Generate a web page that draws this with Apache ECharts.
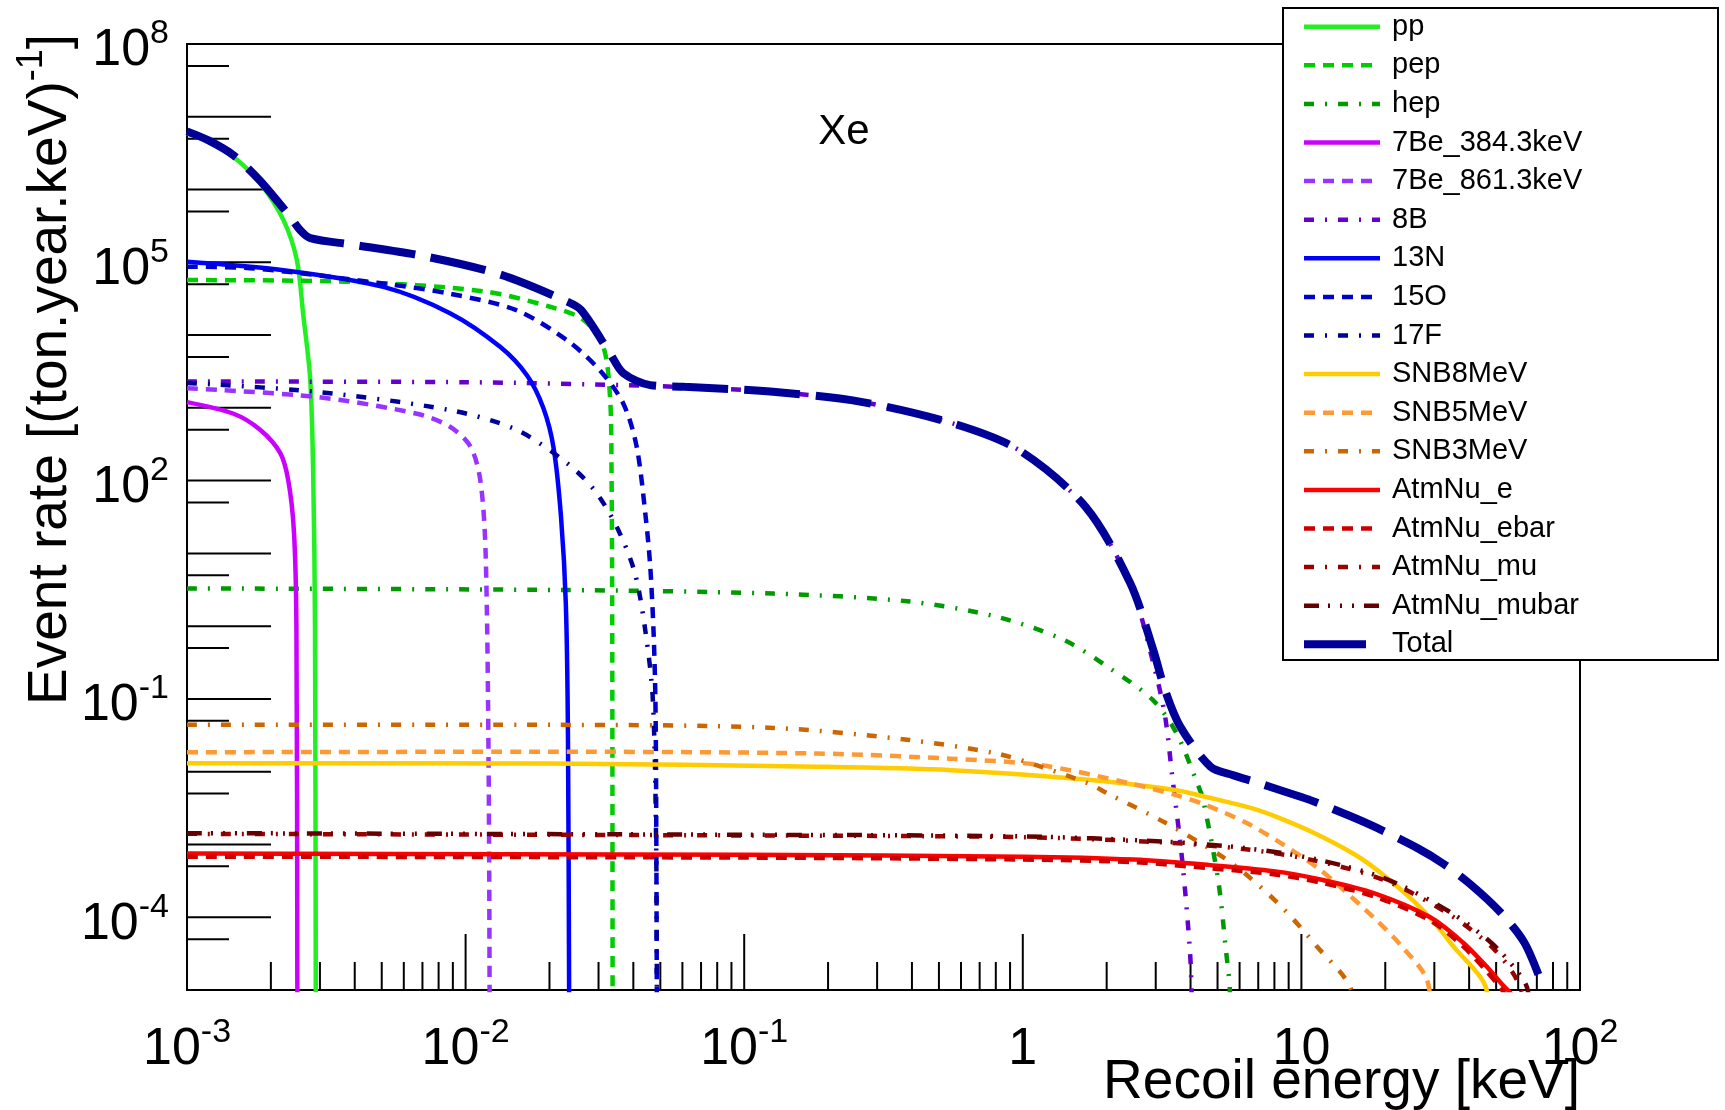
<!DOCTYPE html>
<html lang="en">
<head>
<meta charset="UTF-8">
<title>Xe neutrino event rates</title>
<script src="https://cdn.jsdelivr.net/npm/echarts@6/dist/echarts.min.js"></script>
<style>
  html, body { margin: 0; padding: 0; background: #fff; }
  #main { width: 1725px; height: 1110px; }
</style>
</head>
<body>
<div id="main"></div>
<script>
// ---- data: [recoil energy keV, event rate (ton.year.keV)^-1] ----
const ppData = [[1e-3, 5.9e6], [1.2e-3, 4.5e6], [1.47e-3, 2.8e6], [1.83e-3, 1.23e6], [2.22e-3, 3.8e5],
  [2.48e-3, 1.07e5], [2.61e-3, 2.0e4], [2.77e-3, 2.4e3], [2.84e-3, 100], [2.88e-3, 1], [2.9e-3, 3e-6]];
const pepData = [[1e-3, 5.7e4], [3.85e-3, 5.4e4], [1.16e-2, 4.0e4], [2.01e-2, 2.45e4], [2.65e-2, 1.62e4],
  [3.12e-2, 6.9e3], [3.3e-2, 1.4e3], [3.34e-2, 140], [3.36e-2, 1], [3.37e-2, 3e-6]];
const hepData = [[1e-3, 3.3], [2.16e-2, 3.14], [0.127, 2.8], [0.384, 2.2], [0.804, 1.35], [1.4, 0.65],
  [2.02, 0.275], [2.92, 9.8e-2], [3.56, 3.4e-2], [4.23, 6.9e-3], [4.44, 4.1e-3], [5.04, 3e-4],
  [5.36, 3.5e-5], [5.53, 1.1e-5], [5.56, 3e-6]];
const be384Data = [[1e-3, 1.2e3], [1.47e-3, 830], [1.83e-3, 500], [2.16e-3, 240], [2.31e-3, 100],
  [2.42e-3, 20], [2.47e-3, 1], [2.49e-3, 3e-6]];
const be861Data = [[1e-3, 1.86e3], [2.92e-3, 1.41e3], [6.68e-3, 830], [8.79e-3, 550], [1.04e-2, 295],
  [1.13e-2, 100], [1.18e-2, 10], [1.21e-2, 1e-2], [1.22e-2, 3e-6]];
const b8Data = [[1e-3, 2.3e3], [1e-2, 2.25e3], [4.6e-2, 2.0e3], [0.127, 1.66e3], [0.266, 1.2e3],
  [0.556, 617], [0.968, 263], [1.68, 43], [2.43, 3.8], [2.94, 0.31], [3.24, 5.8e-2], [3.44, 8.5e-3],
  [3.73, 6.3e-4], [3.98, 3.5e-5], [4.04, 8e-6], [4.06, 3e-6]];
const n13Data = [[1e-3, 1.02e5], [2.22e-3, 7.8e4], [5.07e-3, 4.6e4], [8.79e-3, 2.0e4], [1.33e-2, 6.9e3],
  [1.66e-2, 2.8e3], [1.9e-2, 1.0e3], [2.07e-2, 280], [2.2e-2, 32], [2.29e-2, 2.0], [2.33e-2, 3.2e-2],
  [2.355e-2, 3e-6]];
const o15Data = [[1e-3, 8.7e4], [1.68e-3, 8.3e4], [5.07e-3, 5.1e4], [8.79e-3, 3.7e4], [1.52e-2, 2.2e4],
  [2.31e-2, 8.5e3], [3.03e-2, 3.3e3], [3.68e-2, 1.15e3], [4.11e-2, 295], [4.43e-2, 31.6], [4.6e-2, 6.6],
  [4.73e-2, 0.8], [4.8e-2, 9.8e-2], [4.83e-2, 5e-3], [4.86e-2, 3e-6]];
const f17Data = [[1e-3, 2.2e3], [2.92e-3, 1.66e3], [8.79e-3, 930], [1.52e-2, 500], [2.31e-2, 174],
  [2.9e-2, 74], [3.49e-2, 23], [4.05e-2, 5.4], [4.43e-2, 0.8], [4.7e-2, 9.8e-2], [4.83e-2, 1e-3],
  [4.86e-2, 3e-6]];
const snb8Data = [[1e-3, 1.31e-2], [2.01e-2, 1.3e-2], [0.184, 1.17e-2], [0.556, 1.05e-2], [1.68, 7.8e-3],
  [3.52, 5.6e-3], [4.44, 4.6e-3], [6.53, 3.2e-3], [8.36, 2.3e-3], [11.35, 1.38e-3], [15.7, 7.1e-4],
  [19.7, 3.8e-4], [25.3, 1.66e-4], [29.8, 8.7e-5], [34.7, 4.2e-5], [46.2, 1e-5], [47, 3e-6]];
const snb5Data = [[1e-3, 1.85e-2], [2e-2, 1.88e-2], [0.182, 1.78e-2], [0.55, 1.51e-2], [1.16, 1.23e-2],
  [2.43, 6.9e-3], [3.52, 4.8e-3], [4.44, 3.6e-3], [6.31, 2.0e-3], [8.36, 1.07e-3], [11.5, 4.7e-4],
  [13.5, 2.8e-4], [18.6, 9.1e-5], [22.9, 4.0e-5], [28.2, 1.4e-5], [29.5, 3e-6]];
const snb3Data = [[1e-3, 4.4e-2], [2.01e-2, 4.4e-2], [0.127, 4.0e-2], [0.384, 2.75e-2], [0.804, 1.78e-2],
  [1.16, 1.17e-2], [1.72, 6.9e-3], [2.02, 5.0e-3], [3.24, 2.0e-3], [5.2, 6.8e-4], [6.53, 3.5e-4],
  [8.6, 1.32e-4], [11.35, 4.0e-5], [15.1, 1e-5], [15.5, 3e-6]];
const atmEData = [[1e-3, 7.5e-4], [0.1, 7.2e-4], [1, 6.8e-4], [2.51, 6.2e-4], [4.71, 5.2e-4],
  [7.94, 4.3e-4], [11.7, 3.3e-4], [18.5, 2.1e-4], [29, 1.0e-4], [38, 4.5e-5], [45.7, 2.2e-5],
  [52.5, 1.2e-5], [57.5, 8e-6], [59, 3e-6]];
const atmEbarData = [[1e-3, 6.8e-4], [0.1, 6.6e-4], [1, 6.2e-4], [2.51, 5.7e-4], [4.71, 4.7e-4],
  [7.94, 3.9e-4], [11.7, 3.0e-4], [18.5, 1.9e-4], [29, 9.0e-5], [38, 4.0e-5], [45.7, 1.9e-5],
  [52.5, 1.0e-5], [56.5, 6e-6], [58, 3e-6]];
const atmMuData = [[1e-3, 1.4e-3], [0.1, 1.33e-3], [1, 1.26e-3], [3.16, 1.07e-3], [6.31, 8.6e-4],
  [11.2, 6.0e-4], [20, 3.2e-4], [33.9, 1.1e-4], [47.9, 4.0e-5], [57, 1.8e-5], [62, 9e-6], [64, 3e-6]];
const atmMubarData = [[1e-3, 1.43e-3], [0.1, 1.36e-3], [1, 1.29e-3], [3.16, 1.1e-3], [6.31, 8.9e-4],
  [11.2, 6.3e-4], [20, 3.4e-4], [33.9, 1.2e-4], [47.9, 4.5e-5], [58.9, 1.9e-5], [64.6, 1.07e-5],
  [67.6, 3e-6]];
const totalData = [[1e-3, 6.3e6], [1.2e-3, 4.7e6], [1.47e-3, 2.95e6], [1.83e-3, 1.32e6], [2.22e-3, 5.5e5],
  [2.34e-3, 4.3e5], [2.55e-3, 2.75e5], [2.77e-3, 2.15e5], [3.95e-3, 1.74e5], [7.2e-3, 1.2e5],
  [1.33e-2, 6.8e4], [2.31e-2, 2.9e4], [2.6e-2, 2.2e4], [3.3e-2, 5.6e3], [3.68e-2, 3.0e3], [4.6e-2, 2.05e3],
  [6.1e-2, 1.95e3], [0.127, 1.66e3], [0.266, 1.2e3], [0.556, 617], [0.968, 263], [1.68, 43.6], [2.43, 3.9],
  [2.94, 0.47], [3.24, 0.132], [3.67, 0.042], [4.72, 1.17e-2], [5.71, 8.9e-3], [6.92, 7.1e-3],
  [8.36, 5.6e-3], [10.7, 4.1e-3], [14.8, 2.5e-3], [18.6, 1.7e-3], [26.1, 8.9e-4], [32.4, 5.4e-4],
  [40.6, 2.8e-4], [51.8, 1.17e-4], [63.1, 4.5e-5], [72, 1.4e-5]];

const seriesNames = ['pp', 'pep', 'hep', '7Be_384.3keV', '7Be_861.3keV', '8B', '13N', '15O', '17F',
  'SNB8MeV', 'SNB5MeV', 'SNB3MeV', 'AtmNu_e', 'AtmNu_ebar', 'AtmNu_mu', 'AtmNu_mubar', 'Total'];
const seriesData = [ppData, pepData, hepData, be384Data, be861Data, b8Data, n13Data, o15Data, f17Data,
  snb8Data, snb5Data, snb3Data, atmEData, atmEbarData, atmMuData, atmMubarData, totalData];

// axis ticks and labels
const xMajorTicks = [1e-2, 1e-1, 1, 10];
const xDecades = [1e-3, 1e-2, 1e-1, 1, 10];
const xMinorSteps = [2, 3, 4, 5, 6, 7, 8, 9];
const yMajorTicks = [1e-4, 1e-3, 1e-2, 1e-1, 1, 10, 100, 1e3, 1e4, 1e5, 1e6, 1e7, 1e8];
const yMinorTicks = [5e-5, 5e-4, 5e-3, 5e-2, 0.5, 5, 50, 500, 5e3, 5e4, 5e5, 5e6, 5e7];
const xLabelValues = [1e-3, 1e-2, 1e-1, 1, 10, 100];
const xTickLabels = ['10^-3', '10^-2', '10^-1', '1', '10', '10^2'];
const yLabelValues = [1e-4, 1e-1, 100, 1e5, 1e8];
const yTickLabels = ['10^-4', '10^-1', '10^2', '10^5', '10^8'];

const X_MIN = 1e-3, X_MAX = 100, Y_MIN = 1e-5, Y_MAX = 1e8;
const FONT = '"Liberation Sans", Arial, Helvetica, sans-serif';

// ROOT-ish line styles
const DASH = {
  solid: 'solid',
  dash: [11, 8],
  dashdot: [10, 11, 2, 11],
  dash3dot: [15, 9, 2, 10, 2, 10, 2, 10],
  longdash: [56, 16]
};
const looks = [
  ['#22f022', 'solid'], ['#00cc00', 'dash'], ['#009900', 'dashdot'],
  ['#cc00ff', 'solid'], ['#9933ff', 'dash'], ['#6600cc', 'dashdot'],
  ['#0000ff', 'solid'], ['#0000cc', 'dash'], ['#000099', 'dashdot'],
  ['#ffcc00', 'solid'], ['#ff9933', 'dash'], ['#cc6600', 'dashdot'],
  ['#ff0000', 'solid'], ['#cc0000', 'dash'], ['#990000', 'dashdot'],
  ['#660000', 'dash3dot'], ['#000099', 'longdash']
];

const xMinorTicks = [];
xDecades.forEach(d => xMinorSteps.forEach(m => xMinorTicks.push(d * m)));

function richLabel(s) {
  const parts = s.split('^');
  return parts.length > 1 ? '{b|' + parts[0] + '}{s|' + parts[1] + '}' : '{b|' + parts[0] + '}';
}
const labelRich = {
  b: { fontSize: 52, lineHeight: 60, fontFamily: FONT, color: '#000', verticalAlign: 'bottom' },
  s: { fontSize: 34, lineHeight: 34, fontFamily: FONT, color: '#000', verticalAlign: 'top' }
};

function tickSeries(values, onX, len) {
  return {
    type: 'custom', silent: true, z: 1, clip: false,
    data: values.map(v => onX ? [v, Y_MIN] : [X_MIN, v]),
    encode: { x: 0, y: 1 },
    renderItem: (params, api) => {
      const p = api.coord([api.value(0), api.value(1)]);
      const shape = onX
        ? { x1: p[0], y1: p[1], x2: p[0], y2: p[1] - len }
        : { x1: p[0], y1: p[1], x2: p[0] + len, y2: p[1] };
      return { type: 'line', shape: shape, style: { stroke: '#000', lineWidth: 2 } };
    }
  };
}

function labelSeries(values, texts, onX) {
  return {
    type: 'custom', silent: true, z: 1, clip: false,
    data: values.map(v => onX ? [v, Y_MIN] : [X_MIN, v]),
    encode: { x: 0, y: 1 },
    renderItem: (params, api) => {
      const p = api.coord([api.value(0), api.value(1)]);
      return {
        type: 'text',
        x: onX ? p[0] : p[0] - 18,
        y: onX ? p[1] + 56 : p[1] + 3,
        style: {
          text: richLabel(texts[params.dataIndex]),
          rich: labelRich,
          align: onX ? 'center' : 'right',
          verticalAlign: 'middle'
        }
      };
    }
  };
}

const lineSeries = seriesNames.map((name, i) => ({
  name: name,
  type: 'line',
  data: seriesData[i],
  showSymbol: false,
  symbol: 'none',
  smooth: 0.3,
  z: name === 'Total' ? 3 : 2,
  lineStyle: {
    color: looks[i][0],
    type: DASH[looks[i][1]],
    width: name === 'Total' ? 8 : 4.5
  },
  itemStyle: { color: looks[i][0] }
}));

// legend entries; the Total sample is a single short thick bar
const legendItems = seriesNames.map(name => name === 'Total'
  ? { name: name, lineStyle: { type: [62, 60], width: 8 } }
  : { name: name });

const chart = echarts.init(document.getElementById('main'), null, { renderer: 'canvas' });

chart.setOption({
  animation: false,
  backgroundColor: '#fff',
  grid: {
    left: 187, top: 44, width: 1393, height: 946,
    show: true, borderColor: '#000', borderWidth: 2, backgroundColor: 'transparent'
  },
  xAxis: {
    type: 'log', logBase: 10, min: X_MIN, max: X_MAX,
    axisLine: { show: false }, axisTick: { show: false },
    axisLabel: { show: false }, splitLine: { show: false }
  },
  yAxis: {
    type: 'log', logBase: 10, min: Y_MIN, max: Y_MAX,
    axisLine: { show: false }, axisTick: { show: false },
    axisLabel: { show: false }, splitLine: { show: false }
  },
  legend: {
    data: legendItems,
    orient: 'vertical',
    left: 1300, top: 11.7,
    padding: 0,
    itemWidth: 76, itemHeight: 14, itemGap: 8.6,
    z: 20,
    selectedMode: false,
    itemStyle: { opacity: 0 },
    lineStyle: { width: 4.5 },
    textStyle: { fontSize: 29, fontFamily: FONT, color: '#000', lineHeight: 30, padding: [0, 0, 0, 7] }
  },
  graphic: [
    { type: 'rect', z: 10, silent: true,
      shape: { x: 1283, y: 8, width: 435, height: 652 },
      style: { fill: '#fff', stroke: '#000', lineWidth: 2 } },
    { type: 'text', z: 10, silent: true, x: 844, y: 132,
      style: { text: 'Xe', font: '42px ' + FONT, fill: '#000', align: 'center', verticalAlign: 'middle' } },
    { type: 'text', z: 10, silent: true, x: 1580, y: 1083,
      style: { text: 'Recoil energy [keV]', font: '55px ' + FONT, fill: '#000', align: 'right', verticalAlign: 'middle' } },
    { type: 'text', z: 10, silent: true, x: 51, y: 34, rotation: Math.PI / 2,
      style: {
        text: 'Event rate [(ton.year.keV){sup|-1}]',
        font: '55px ' + FONT, fill: '#000', lineHeight: 74,
        align: 'right', verticalAlign: 'middle',
        rich: { sup: { fontSize: 36, lineHeight: 36, fontFamily: FONT, verticalAlign: 'top', color: '#000' } }
      } }
  ],
  series: [
    tickSeries(xMajorTicks, true, 56),
    tickSeries(xMinorTicks, true, 28),
    tickSeries(yMajorTicks, false, 84),
    tickSeries(yMinorTicks, false, 42),
    labelSeries(xLabelValues, xTickLabels, true),
    labelSeries(yLabelValues, yTickLabels, false)
  ].concat(lineSeries)
});
</script>
</body>
</html>
